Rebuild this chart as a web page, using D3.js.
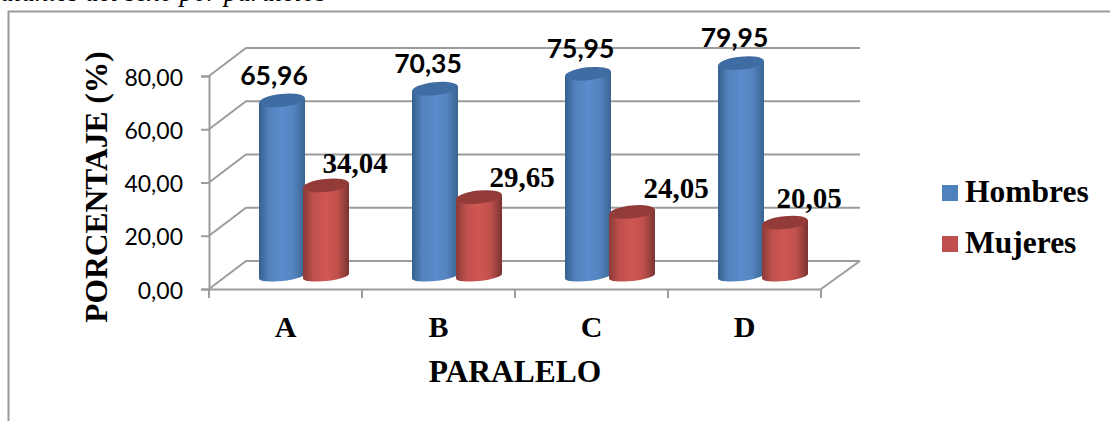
<!DOCTYPE html>
<html>
<head>
<meta charset="utf-8">
<script src="https://cdn.jsdelivr.net/npm/d3@7"></script>
<style>
  html, body { margin: 0; padding: 0; background: #fff; overflow: hidden; }
  svg { display: block; }
</style>
</head>
<body>
<svg id="chart" width="1110" height="421"></svg>
<script>
// Gender share per school section, drawn as a pseudo-3D cylinder column chart.
const categories = ["A", "B", "C", "D"];
const seriesNames = ["Hombres", "Mujeres"];
const hombres = [65.96, 70.35, 75.95, 79.95];
const mujeres = [34.04, 29.65, 24.05, 20.05];
const yTicks = [0, 20, 40, 60, 80];
// Hand-placed label offsets from each cylinder's top centre.
const hombresLabelShift = [[-8, -15], [-7, -16], [-7.5, -16], [-6.5, -16]];
const mujeresLabelShift = [[29, -12], [43, -10], [44, -14], [24, -15]];

const serif = "'Liberation Serif', serif";
const sans = "Lato, sans-serif";
const gridColor = "#9c9c9c";
const colors = { Hombres: "#4f81bd", Mujeres: "#c0504d" };

const svg = d3.select("#chart");
const fmt = v => v.toFixed(2).replace(".", ",");

// Page caption, mostly clipped by the top edge.
svg.append("text").attr("x", 326).attr("y", 1)
  .attr("text-anchor", "end")
  .attr("font-family", serif).attr("font-style", "italic").attr("font-size", 27)
  .text("Estudiantes del sexo por paralelos");

// Outer chart frame: only top and left edges fall inside the view.
svg.append("path").attr("d", "M8.5,421V11.5H1110")
  .attr("fill", "none").attr("stroke", "#999").attr("stroke-width", 2);

// Scales on the front plane, plus the oblique depth offset.
const x = d3.scaleBand().domain(categories).range([209, 821]);
const y = d3.scaleLinear().domain([0, 80]).range([289, 76]);
const depth = { dx: 37, dy: -28 };
const inner = d3.scaleBand().domain(seriesNames).range([-44, 44]);
const barRx = 23, barRy = 6.5, baseRy = 5, tilt = -6;

const walls = svg.append("g").attr("fill", "none")
  .attr("stroke", gridColor).attr("stroke-width", 2);

// Side wall and back wall gridlines.
yTicks.forEach(t => {
  const [x0, x1] = x.range();
  walls.append("path").attr("d",
    `M${x0},${y(t)}L${x0 + depth.dx},${y(t) + depth.dy}H${x1 + depth.dx + 2}`);
});
// Floor edge on the right.
walls.append("path").attr("d",
  `M${x.range()[1]},${y(0)}L${x.range()[1] + depth.dx + 2},${y(0) + depth.dy}`);

// Value axis.
const yAxis = svg.append("g").attr("transform", "translate(209,0)")
  .call(d3.axisLeft(y).tickValues(yTicks).tickFormat(fmt).tickSize(8).tickPadding(18));
yAxis.select(".domain").attr("stroke", gridColor).attr("stroke-width", 2);
yAxis.selectAll(".tick line").attr("stroke", gridColor).attr("stroke-width", 2);
yAxis.selectAll(".tick text").attr("dy", "0.4em")
  .attr("font-family", sans).attr("font-size", 23).attr("fill", "#000");

// Category axis: ticks sit on band boundaries, labels at band centres.
const xAxis = svg.append("g").attr("transform", `translate(0,${y(0)})`)
  .call(d3.axisBottom(x).tickSize(0).tickPadding(27));
xAxis.select(".domain").attr("stroke", gridColor).attr("stroke-width", 2);
xAxis.selectAll(".tick text")
  .attr("font-family", serif).attr("font-weight", "bold")
  .attr("font-size", 30).attr("fill", "#000");
const boundaries = categories.map(c => x(c)).concat(x.range()[1]);
xAxis.selectAll(".boundary").data(boundaries).join("line")
  .attr("class", "boundary")
  .attr("x1", d => d).attr("x2", d => d).attr("y1", 0).attr("y2", 9)
  .attr("stroke", gridColor).attr("stroke-width", 2);

// Cylinder shading.
const defs = svg.append("defs");
const shades = {
  Hombres: { edgeL: "#35608f", mid: "#5b8ccb", edgeR: "#3a6492", cap: "#3f6ca3" },
  Mujeres: { edgeL: "#8a3a38", mid: "#d05753", edgeR: "#7a3331", cap: "#933b39" }
};
seriesNames.forEach(name => {
  const s = shades[name];
  const g = defs.append("linearGradient").attr("id", "body-" + name);
  [[0, s.edgeL], [0.22, d3.interpolateRgb(s.edgeL, s.mid)(0.75)], [0.5, s.mid],
   [0.75, d3.interpolateRgb(s.edgeR, s.mid)(0.8)], [1, s.edgeR]]
    .forEach(([o, c]) => g.append("stop").attr("offset", o).attr("stop-color", c));
});

const rows = seriesNames.flatMap(name => categories.map((c, i) => ({
  name, category: c, i,
  value: name === "Hombres" ? hombres[i] : mujeres[i],
  shift: name === "Hombres" ? hombresLabelShift[i] : mujeresLabelShift[i]
})));

const cx = d => x(d.category) + x.bandwidth() / 2 + depth.dx / 2 + inner(d.name) + inner.bandwidth() / 2;
const baseY = y(0) + depth.dy / 2 + 1;
const topY = d => baseY - (y(0) - y(d.value));
// Tilted-ellipse vertical offset at the cylinder's left and right edges.
const lift = barRx * Math.sin(-tilt * Math.PI / 180);

const bars = svg.append("g").selectAll("g").data(rows).join("g");
bars.append("path")
  .attr("fill", d => `url(#body-${d.name})`)
  .attr("d", d => {
    const c = cx(d), t = topY(d);
    return `M${c - barRx},${t + lift}
      L${c - barRx},${baseY + lift}
      A${barRx},${baseRy} ${tilt} 0 0 ${c + barRx},${baseY - lift}
      L${c + barRx},${t - lift} Z`;
  });
bars.append("ellipse")
  .attr("cx", cx).attr("cy", topY)
  .attr("rx", barRx).attr("ry", barRy)
  .attr("transform", d => `rotate(${tilt} ${cx(d)} ${topY(d)})`)
  .attr("fill", d => shades[d.name].cap);

// Value labels: men in the humanist sans, women in the serif.
svg.append("g").selectAll("text").data(rows).join("text")
  .attr("x", d => cx(d) + d.shift[0])
  .attr("y", d => topY(d) + d.shift[1])
  .attr("text-anchor", "middle")
  .attr("font-weight", "bold")
  .attr("font-family", d => d.name === "Mujeres" ? serif : sans)
  .attr("font-size", d => d.name === "Mujeres" ? 29 : 26.5)
  .text(d => fmt(d.value));

// Axis titles.
svg.append("text").attr("x", 515).attr("y", 382).attr("text-anchor", "middle")
  .attr("font-family", serif).attr("font-weight", "bold").attr("font-size", 31.5)
  .text("PARALELO");
svg.append("text").attr("transform", "translate(107,187) rotate(-90)")
  .attr("text-anchor", "middle")
  .attr("font-family", serif).attr("font-weight", "bold").attr("font-size", 31.5)
  .text("PORCENTAJE (%)");

// Legend.
const legendY = d3.scalePoint().domain(seriesNames).range([185, 236]);
const legend = svg.append("g").selectAll("g").data(seriesNames).join("g")
  .attr("transform", d => `translate(942,${legendY(d)})`);
legend.append("rect").attr("width", 16).attr("height", 16).attr("fill", d => colors[d]);
legend.append("text").attr("x", 23).attr("y", 17)
  .attr("font-family", serif).attr("font-weight", "bold").attr("font-size", 31.5)
  .text(d => d);
</script>
</body>
</html>
